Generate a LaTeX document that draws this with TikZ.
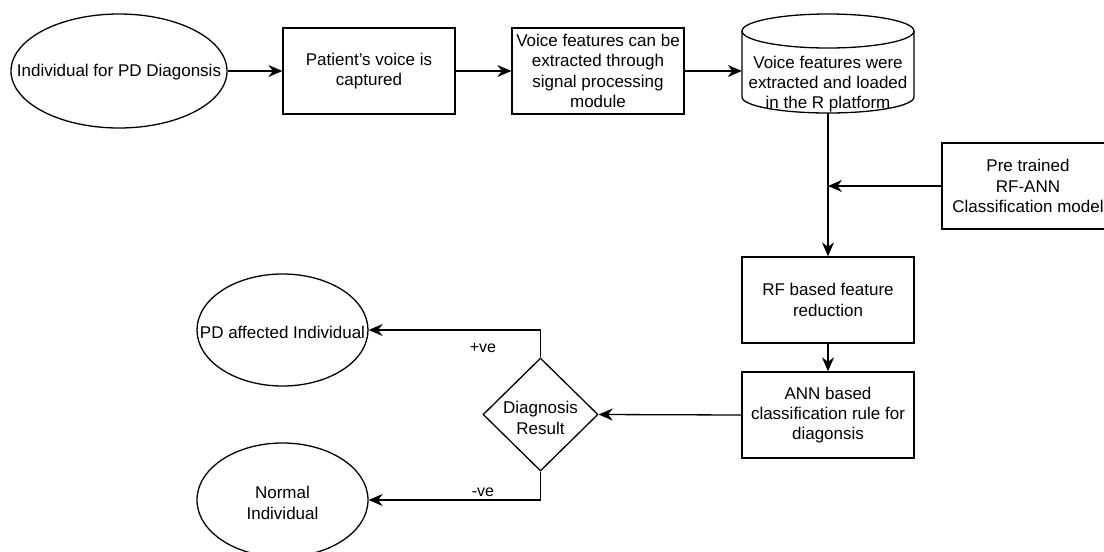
\documentclass[tikz,border=0pt]{standalone}
\usepackage{fontspec}
\setmainfont{Liberation Sans}
\usetikzlibrary{shapes.geometric,arrows.meta}
\tikzset{
  base/.style={draw=black, line width=1.3pt, inner sep=0pt, align=center, font=\fontsize{17}{20.3}\selectfont},
  boxnode/.style={base, rectangle, minimum width=172pt, minimum height=86pt},
  ellnode/.style={base, ellipse},
  txt/.style={inner sep=0pt, align=center, font=\fontsize{17}{20.3}\selectfont},
  lbl/.style={inner sep=0pt, font=\fontsize{16}{19}\selectfont},
  conn/.style={line width=1.3pt, -{Stealth[length=14pt,width=12pt,inset=4.5pt]}},
  line/.style={line width=1.3pt}
}
\begin{document}
\begin{tikzpicture}[x=1pt,y=-1pt]
\useasboundingbox (0,0) rectangle (1104,552);
\clip (0,0) rectangle (1104,552);
\fill[white] (0,0) rectangle (1104,552);

\node[ellnode, minimum width=216pt, minimum height=114pt] (start) at (119,71) {};
\node[txt] (starttext) at (119,72) {Individual for PD Diagonsis};
\node[boxnode] (capture) at (369,71) {Patient's voice is\\captured};
\node[boxnode] (extract) at (598,71) {Voice features can be\\extracted through\\signal processing\\module};

% cylinder
\node[minimum width=172pt, minimum height=99pt, inner sep=0pt] (cyl) at (828,63.5) {};
\draw[line width=1.3pt, fill=white] (742,31) -- (742,97) arc[start angle=180, end angle=360, x radius=86, y radius=-16] -- (914,31);
\draw[line width=1.3pt] (828,31) ellipse[x radius=86, y radius=17];
\node[txt] (cyltext) at (828,84) {Voice features were\\extracted and loaded\\in the R platform};

\node[boxnode] (pre) at (1028,186) {Pre trained\\RF-ANN\\Classification model};
\node[boxnode] (rf) at (828,300) {RF based feature\\reduction};
\node[boxnode] (ann) at (828,415) {ANN based\\classification rule for\\diagonsis};
\node[base, diamond, minimum width=115pt, minimum height=113pt] (dia) at (540.5,414.5) {};
\node[txt] (diatext) at (540.5,418) {Diagnosis\\Result};
\node[ellnode, minimum width=171pt, minimum height=112pt] (pd) at (282.5,330) {};
\node[txt] (pdtext) at (282.5,332) {PD affected Individual};
\node[ellnode, minimum width=171pt, minimum height=114pt] (normal) at (282.5,500) {};
\node[txt] (normaltext) at (282.5,503) {Normal\\Individual};

\coordinate (join) at (828,186);

\draw[conn] (start.east) -- (capture.west);
\draw[conn] (capture.east) -- (extract.west);
\draw[conn] (extract.east) -- (extract.east -| cyl.west);
\draw[conn] (cyl.south) -- (rf.north);
\draw[conn] (pre.west) -- (join);
\draw[conn] (rf.south) -- (ann.north);
\draw[conn] (ann.west) -- (dia.east);
\draw[conn] (dia.north) |- (pd.east);
\draw[conn] (dia.south) |- (normal.east);

\node[lbl] (pos) at (483,348) {+ve};
\node[lbl] (neg) at (483,492) {-ve};
\end{tikzpicture}
\end{document}
